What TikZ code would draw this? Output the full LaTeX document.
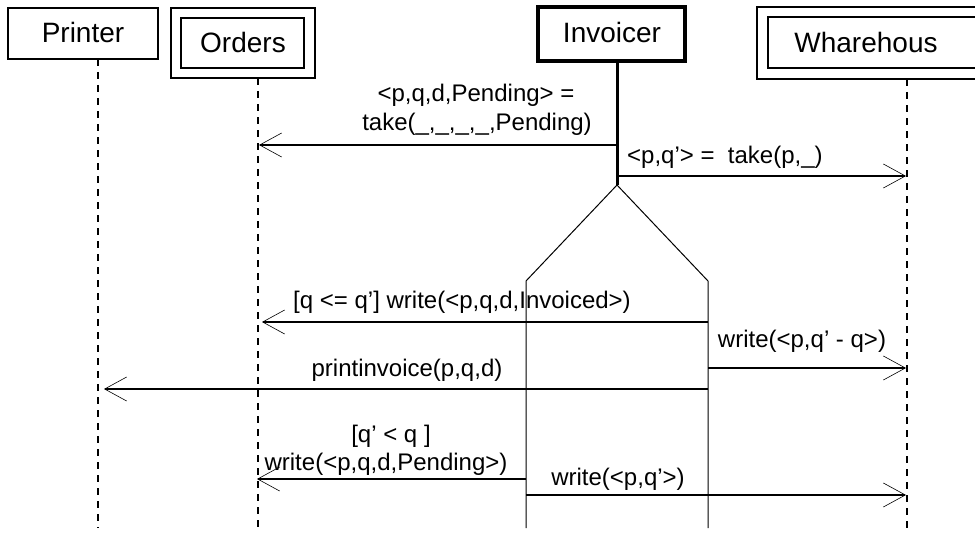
\documentclass[tikz,border=0pt]{standalone}
\usepackage{fontspec}
\setmainfont{Liberation Sans}
\usetikzlibrary{arrows.meta}
\begin{document}
\begin{tikzpicture}[x=1pt,y=-1pt,
  msg/.style={line width=1.1pt, -{Straight Barb[length=22pt,width=24pt,line width=0.6pt]}},
  lifeline/.style={line width=2pt, dash pattern=on 7pt off 6pt},
  thread/.style={line width=1pt},
  lbl/.style={font=\fontsize{24}{28}\selectfont, inner sep=0pt, anchor=base},
  boxlbl/.style={font=\fontsize{28}{32}\selectfont, inner sep=0pt, anchor=base},
  frame/.style={draw, line width=1.8pt, inner sep=0pt, rectangle}]
\useasboundingbox (0,0) rectangle (975,535);
\clip (0,0) rectangle (975,535);

% participant boxes
\node[frame, minimum width=150pt, minimum height=51pt] (printer) at (83,33.5) {};
\node[boxlbl] (printerT) at (83,43) {Printer};

\node[frame, minimum width=144pt, minimum height=70pt] (ordersO) at (243,43) {};
\node[frame, minimum width=123pt, minimum height=50pt] (ordersI) at (242.5,43) {};
\node[boxlbl] (ordersT) at (243,53) {Orders};

\node[frame, line width=4pt, minimum width=147pt, minimum height=54pt] (invoicer) at (611.5,34) {};
\node[boxlbl] (invoicerT) at (612,43) {Invoicer};

\node[frame, minimum width=243pt, minimum height=72pt] (whO) at (878.5,43) {};
\node[frame, minimum width=222pt, minimum height=51pt] (whI) at (879,42.5) {};
\node[boxlbl] (whT) at (866,53) {Wharehous};

% lifelines
\coordinate (pTop) at (98,59);   \coordinate (pBot) at (98,528);
\coordinate (oTop) at (258,78);  \coordinate (oBot) at (258,528);
\coordinate (wTop) at (907,79);  \coordinate (wBot) at (907,528);
\draw[lifeline] (pTop) -- (pBot);
\draw[lifeline] (oTop) -- (oBot);
\draw[lifeline] (wTop) -- (wBot);

% invoicer activation and fork
\coordinate (iTop) at (617,61);
\coordinate (fork) at (617,185);
\coordinate (aTop) at (526,281); \coordinate (aBot) at (526,528);
\coordinate (bTop) at (708,281); \coordinate (bBot) at (708,528);
\draw[line width=3pt] (iTop) -- (fork);
\draw[thread] (fork) -- (aTop) -- (aBot);
\draw[thread] (fork) -- (bTop) -- (bBot);

% messages
\coordinate (m1s) at (617,145); \coordinate (m1e) at (259,145);
\draw[msg] (m1s) -- (m1e);
\node[lbl] (m1a) at (476,101) {<p,q,d,Pending> =};
\node[lbl] (m1b) at (477,130) {take(\_,\_,\_,\_,Pending)};

\coordinate (m2s) at (617,176); \coordinate (m2e) at (906,176);
\draw[msg] (m2s) -- (m2e);
\node[lbl, anchor=base west] (m2a) at (627,163) {<p,q'> =\ \ take(p,\_)};

\coordinate (m3s) at (708,322); \coordinate (m3e) at (262,322);
\draw[msg] (m3s) -- (m3e);
\node[lbl] (m3a) at (462,308) {[q <= q'] write(<p,q,d,Invoiced>)};

\coordinate (m4s) at (708,368); \coordinate (m4e) at (906,368);
\draw[msg] (m4s) -- (m4e);
\node[lbl] (m4a) at (802,347) {write(<p,q' - q>)};

\coordinate (m5s) at (708,389); \coordinate (m5e) at (104,389);
\draw[msg] (m5s) -- (m5e);
\node[lbl] (m5a) at (407,376) {printinvoice(p,q,d)};

\coordinate (m6s) at (526,479); \coordinate (m6e) at (257,479);
\draw[msg] (m6s) -- (m6e);
\node[lbl] (m6a) at (391,442) {[q' < q ]};
\node[lbl] (m6b) at (386,470) {write(<p,q,d,Pending>)};

\coordinate (m7s) at (526,495); \coordinate (m7e) at (906,495);
\draw[msg] (m7s) -- (m7e);
\node[lbl] (m7a) at (618,485) {write(<p,q'>)};
\end{tikzpicture}
\end{document}
